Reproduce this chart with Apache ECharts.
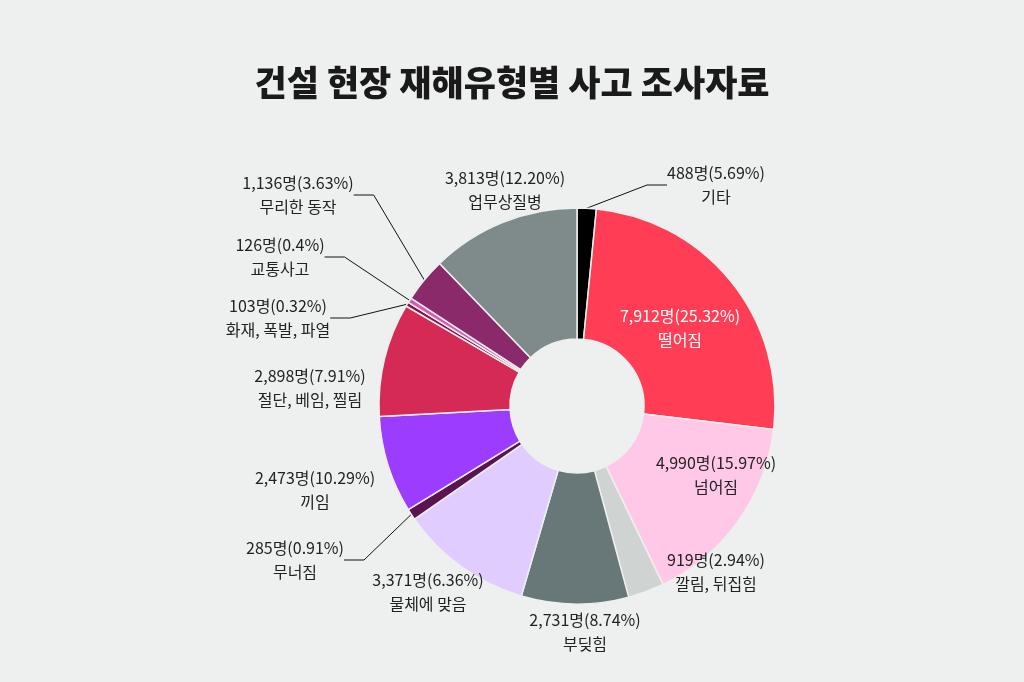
<!DOCTYPE html>
<html><head><meta charset="utf-8">
<script src="https://cdn.jsdelivr.net/npm/echarts@6/dist/echarts.min.js"></script>
<style>html,body{margin:0;background:#eef0ef}#c{width:1024px;height:682px}</style>
</head><body><div id="c"></div>
<script>
const categories=['기타','떨어짐','넘어짐','깔림, 뒤집힘','부딪힘','물체에 맞음','무너짐','끼임','절단, 베임, 찔림','화재, 폭발, 파열','교통사고','무리한 동작','업무상질병'];
const counts=[488,7912,4990,919,2731,3371,285,2473,2898,103,126,1136,3813];
const countLabels=['488','7,912','4,990','919','2,731','3,371','285','2,473','2,898','103','126','1,136','3,813'];
const pctLabels=['5.69%','25.32%','15.97%','2.94%','8.74%','6.36%','0.91%','10.29%','7.91%','0.32%','0.4%','3.63%','12.20%'];
const colors=['#000000','#ff3d55','#ffc8e6','#cfd3d2','#687879','#e0ccff','#5a1450','#9b3cff','#d42a55','#8a1040','#d35cb5','#8b2a6a','#7f8b8b'];
const labelPos=[[716,185],[680,328],[716,475],[716,572],[585,632],[428,592],[295,560],[315,490],[310,388],[278,318],[280,257],[298,195],[505,190]];
const withLine=[true,false,false,false,false,false,true,false,false,true,true,true,false];
const chart=echarts.init(document.getElementById('c'));
chart.setOption({
 backgroundColor:'#eef0ef',
 title:{text:'건설 현장 재해유형별 사고 조사자료',left:'center',top:60,textStyle:{fontFamily:'Noto Sans CJK KR',fontWeight:900,fontSize:35,color:'#1a1a1a'}},
 series:[{type:'pie',center:[577,406],radius:[67,198],startAngle:90,clockwise:true,
  itemStyle:{borderColor:'#eef0ef',borderWidth:1.5},
  label:{position:'outside',formatter:p=>countLabels[p.dataIndex]+'명('+pctLabels[p.dataIndex]+')\n'+categories[p.dataIndex],
   fontFamily:'Noto Sans CJK KR',fontSize:16,lineHeight:24,color:'#222',align:'center'},
  labelLine:{lineStyle:{color:'#111',width:1},length:10,length2:20},
  labelLayout:p=>({x:labelPos[p.dataIndex][0],y:labelPos[p.dataIndex][1],align:'center',verticalAlign:'middle'}),
  data:counts.map((v,i)=>({value:v,name:categories[i],itemStyle:{color:colors[i]},
   label:i===1?{color:'#fff'}:{},labelLine:{show:withLine[i]}}))
 }]
});
</script></body></html>
